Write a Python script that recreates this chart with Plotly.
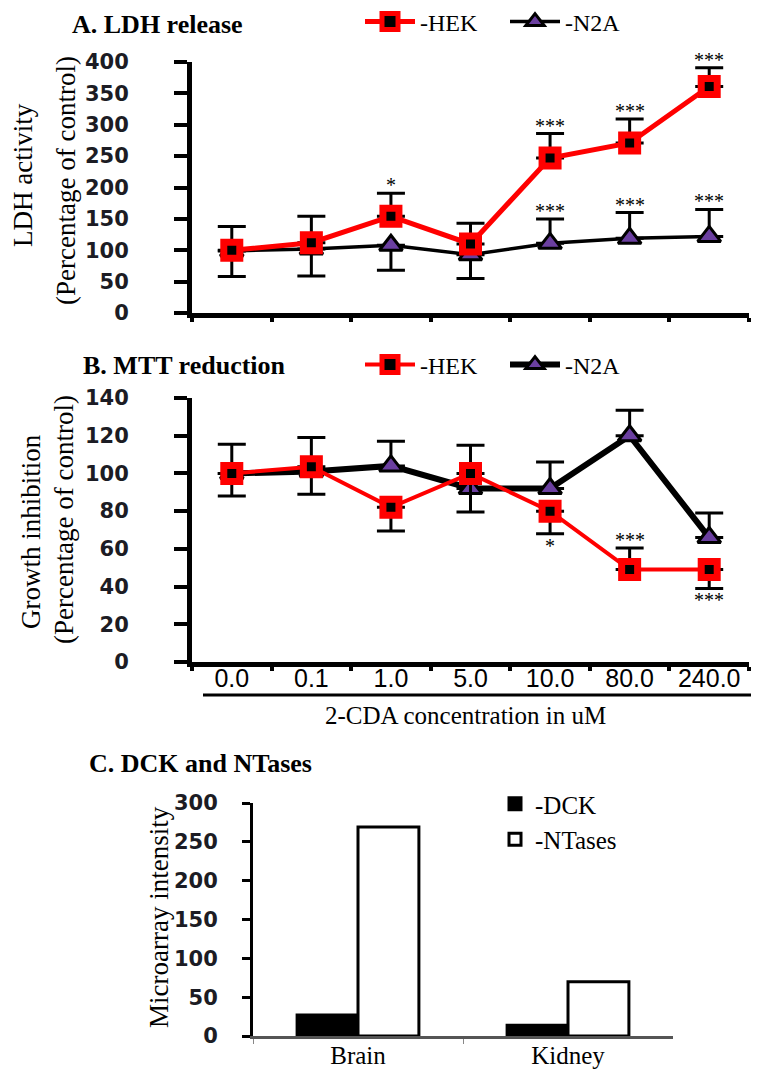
import plotly.graph_objects as go

# ---------------- data ----------------
conc = ["0.0", "0.1", "1.0", "5.0", "10.0", "80.0", "240.0"]

ldh_hek = [100, 112, 154, 110, 247, 271, 361]
ldh_hek_err_up = [38, 42, 37, 33, 39, 38, 30]
ldh_hek_err_down = [0, 0, 0, 0, 0, 0, 0]
ldh_n2a = [99, 102, 108, 93, 111, 119, 122]
ldh_n2a_err_up = [0, 0, 0, 0, 39, 41, 43]
ldh_n2a_err_down = [41, 43, 40, 38, 0, 0, 0]
ldh_hek_stars = ["", "", "*", "", "***", "***", "***"]
ldh_n2a_stars = ["", "", "", "", "***", "***", "***"]

mtt_hek = [100, 103.5, 82, 100, 80, 49, 49]
mtt_hek_err_up = [0, 0, 0, 0, 0, 11.5, 0]
mtt_hek_err_down = [12, 14.5, 12.5, 20.5, 12, 0, 10]
mtt_n2a = [100, 101, 104, 92, 92, 120, 66]
mtt_n2a_err_up = [15.5, 18, 13, 23, 14, 13.5, 13]
mtt_n2a_err_down = [0, 0, 0, 0, 0, 0, 0]
mtt_hek_stars = ["", "", "", "", "*", "***", "***"]
mtt_hek_star_side = [0, 0, 0, 0, -1, 1, -1]

tissues = ["Brain", "Kidney"]
dck = [27, 14]
ntases = [269, 70]

# ---------------- style ----------------
OFF = 8                      # page body margin
W, H = 759 - OFF, 1075 - OFF
L, R = 192 - OFF, 10
SERIF = "Liberation Serif"
SANS = "Liberation Sans"
NUMF = dict(family="DejaVu Sans", size=21, color="#1c1c24", weight="bold")
RED = "#ff0000"
PURPLE = "#6b3fa0"


def px(x):
    """screen x (px) -> paper fraction"""
    return (x - OFF - L) / (W - L - R)


def py(y):
    """screen y (px) -> paper fraction"""
    return 1 - (y - OFF) / H


fig = go.Figure()

err_style = dict(type="data", symmetric=False, color="black", thickness=3, width=14)

# Panel A
fig.add_trace(go.Scatter(
    x=conc, y=ldh_n2a, name="-N2A", mode="lines+markers", legend="legend", legendrank=2,
    line=dict(color="black", width=3.5),
    marker=dict(symbol="triangle-up", size=20, color=PURPLE, line=dict(color="black", width=3)),
    error_y=dict(array=ldh_n2a_err_up, arrayminus=ldh_n2a_err_down, **err_style),
    xaxis="x", yaxis="y"))
fig.add_trace(go.Scatter(
    x=conc, y=ldh_hek, name="-HEK", mode="lines+markers", legend="legend", legendrank=1,
    line=dict(color=RED, width=5),
    marker=dict(symbol="square", size=16, color="black", line=dict(color=RED, width=7)),
    error_y=dict(array=ldh_hek_err_up, arrayminus=ldh_hek_err_down, **err_style),
    xaxis="x", yaxis="y"))

# Panel B
fig.add_trace(go.Scatter(
    x=conc, y=mtt_n2a, name="-N2A", mode="lines+markers", legend="legend2", legendrank=2,
    line=dict(color="black", width=6),
    marker=dict(symbol="triangle-up", size=20, color=PURPLE, line=dict(color="black", width=3)),
    error_y=dict(array=mtt_n2a_err_up, arrayminus=mtt_n2a_err_down, **err_style),
    xaxis="x2", yaxis="y2"))
fig.add_trace(go.Scatter(
    x=conc, y=mtt_hek, name="-HEK", mode="lines+markers", legend="legend2", legendrank=1,
    line=dict(color=RED, width=4),
    marker=dict(symbol="square", size=16, color="black", line=dict(color=RED, width=7)),
    error_y=dict(array=mtt_hek_err_up, arrayminus=mtt_hek_err_down, **err_style),
    xaxis="x2", yaxis="y2"))

# Panel C
fig.add_trace(go.Bar(
    x=tissues, y=dck, name="-DCK", legend="legend3",
    marker=dict(color="black", line=dict(color="black", width=3)),
    xaxis="x3", yaxis="y3"))
fig.add_trace(go.Bar(
    x=tissues, y=ntases, name="-NTases", legend="legend3",
    marker=dict(color="white", line=dict(color="black", width=3)),
    xaxis="x3", yaxis="y3"))

# ---------------- axes ----------------
yax_common = dict(showline=True, linecolor="black", linewidth=5, ticks="outside",
                  ticklen=13, tickwidth=4, tickcolor="black", showgrid=False,
                  zeroline=False, tickfont=NUMF, ticklabelstandoff=41, automargin=False)
xax_common = dict(type="category", range=[-0.5, 6.5], showline=True, linecolor="black",
                  linewidth=5, ticks="outside", tickson="boundaries", ticklen=4,
                  tickwidth=4, tickcolor="black", showgrid=False, zeroline=False,
                  automargin=False)

fig.update_layout(
    xaxis=dict(domain=[0, 1], anchor="y", showticklabels=False, **xax_common),
    yaxis=dict(domain=[py(313), py(62)], anchor="x", range=[0, 400], dtick=50, **yax_common),
    xaxis2=dict(domain=[0, 1], anchor="y2", showticklabels=True, ticklabelstandoff=-10,
                tickfont=dict(family=SANS, size=25, color="black"), **xax_common),
    yaxis2=dict(domain=[py(662), py(398)], anchor="x2", range=[0, 140], dtick=20, **yax_common),
    xaxis3=dict(domain=[px(253), px(673)], anchor="y3", type="category", range=[-0.5, 1.5],
                showline=True, linecolor="#555555", linewidth=3, ticks="outside",
                tickson="boundaries", ticklen=5, tickwidth=1, tickcolor="#888888",
                showgrid=False, zeroline=False, ticklabelstandoff=-5, automargin=False,
                tickfont=dict(family=SERIF, size=25, color="black")),
    yaxis3=dict(domain=[py(1036), py(803)], anchor="x3", range=[0, 300], dtick=50,
                showline=True, linecolor="black", linewidth=3, ticks="outside",
                ticklen=8, tickwidth=3, tickcolor="black", showgrid=False, zeroline=False,
                tickfont=NUMF, ticklabelstandoff=20, automargin=False),
    barmode="group", bargap=0.42, bargroupgap=0,
)

leg_common = dict(orientation="h", xanchor="left", yanchor="middle", itemwidth=50,
                  entrywidth=80, entrywidthmode="pixels",
                  font=dict(family=SERIF, size=24, color="black"),
                  bgcolor="rgba(0,0,0,0)", traceorder="normal")
fig.update_layout(
    legend=dict(x=px(360), y=py(22), **leg_common),
    legend2=dict(x=px(360), y=py(365), **leg_common),
    legend3=dict(x=px(495), y=py(781), xanchor="left", yanchor="top", orientation="v",
                 itemwidth=30, font=dict(family=SERIF, size=25, color="black"),
                 bgcolor="rgba(0,0,0,0)", traceorder="normal", tracegroupgap=0),
)

ann = []
# panel titles
ann.append(dict(text="<b>A. LDH release</b>", x=px(70), y=1, xref="paper", yref="paper",
                xanchor="left", yanchor="top", showarrow=False,
                font=dict(family=SERIF, size=26, color="black")))
for txt, x, y in [("B. MTT reduction", 81, 365), ("C. DCK and NTases", 87, 763)]:
    ann.append(dict(text="<b>%s</b>" % txt, x=px(x), y=py(y), xref="paper", yref="paper",
                    xanchor="left", yanchor="middle", showarrow=False,
                    font=dict(family=SERIF, size=26, color="black")))
# y-axis titles
for txt, x, y in [("LDH activity", 23, 175), ("(Percentage of control)", 66, 181),
                  ("Growth inhibition", 31, 532), ("(Percentage of control)", 64, 520),
                  ("Microarray intensity", 159, 917)]:
    ann.append(dict(text=txt, x=px(x), y=py(y), xref="paper", yref="paper",
                    xanchor="center", yanchor="middle", textangle=-90, showarrow=False,
                    font=dict(family=SERIF, size=27, color="black")))
# x-axis title of B
ann.append(dict(text="2-CDA concentration in uM", x=px(465), y=py(715), xref="paper",
                yref="paper", xanchor="center", yanchor="middle", showarrow=False,
                font=dict(family=SERIF, size=25, color="black")))

star_font = dict(family=SERIF, size=20, color="black")
for i, s in enumerate(ldh_hek_stars):
    if s:
        ann.append(dict(text=s, x=i, y=ldh_hek[i] + ldh_hek_err_up[i], xref="x", yref="y",
                        yanchor="middle", yshift=8, showarrow=False, font=star_font))
for i, s in enumerate(ldh_n2a_stars):
    if s:
        ann.append(dict(text=s, x=i, y=ldh_n2a[i] + ldh_n2a_err_up[i], xref="x", yref="y",
                        yanchor="middle", yshift=8, showarrow=False, font=star_font))
for i, s in enumerate(mtt_hek_stars):
    if s:
        side = mtt_hek_star_side[i]
        yv = mtt_hek[i] + mtt_hek_err_up[i] if side > 0 else mtt_hek[i] - mtt_hek_err_down[i]
        ann.append(dict(text=s, x=i, y=yv, xref="x2", yref="y2", yanchor="middle",
                        yshift=8 if side > 0 else -12, showarrow=False, font=star_font))

fig.update_layout(
    annotations=ann,
    shapes=[dict(type="line", xref="paper", yref="paper", x0=px(203), x1=px(751),
                 y0=py(695), y1=py(695), line=dict(color="black", width=3))],
    width=W, height=H, margin=dict(l=L, r=R, t=0, b=0, autoexpand=False),
    paper_bgcolor="white", plot_bgcolor="white", showlegend=True,
)

fig.write_html("out.html")
